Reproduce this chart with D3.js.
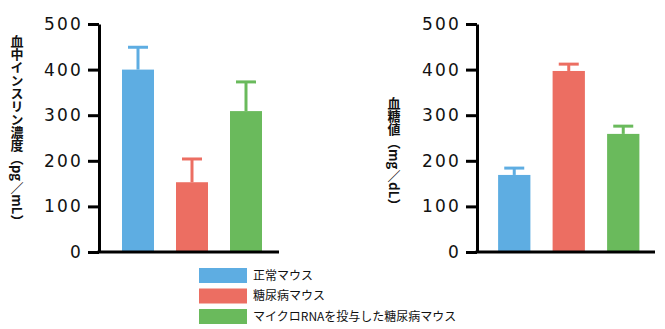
<!DOCTYPE html>
<html>
<head>
<meta charset="utf-8">
<script src="https://cdn.jsdelivr.net/npm/d3@7"></script>
<style>
  body { margin: 0; background: #fff; }
  svg { display: block; }
</style>
</head>
<body>
<div id="chartDiv"></div>
<script>
// groups (legend order)
const groups = ['正常マウス', '糖尿病マウス', 'マイクロRNAを投与した糖尿病マウス'];
const colors = ['#5eade2', '#ec6e62', '#6aba5c'];

// blood insulin (pg/mL)
const insulinMean = [400, 153, 309];
const insulinErr = [49, 51, 64];

// blood glucose (mg/dL)
const glucoseMean = [169, 397, 259];
const glucoseErr = [15, 15, 17];

const yTicks = [0, 100, 200, 300, 400, 500];

const width = 665, height = 329;
const svg = d3.select('#chartDiv').append('svg')
    .attr('width', width)
    .attr('height', height);

const y = d3.scaleLinear().domain([0, 500]).range([252, 24]);

function drawPanel(opts) {
    const g = svg.append('g');
    const x = d3.scaleBand()
        .domain(groups)
        .range([opts.bandStart, opts.bandStart + opts.step * 3])
        .paddingInner(22 / 54)
        .paddingOuter(11 / 54);

    const data = groups.map((k, i) => ({k, v: opts.mean[i], e: opts.err[i], c: colors[i]}));

    // error bars
    g.selectAll('line.err')
        .data(data)
        .join('line')
        .attr('class', 'err')
        .attr('x1', d => x(d.k) + x.bandwidth() / 2)
        .attr('x2', d => x(d.k) + x.bandwidth() / 2)
        .attr('y1', d => y(d.v))
        .attr('y2', d => y(d.v + d.e))
        .attr('stroke', d => d.c)
        .attr('stroke-width', 3);
    g.selectAll('line.cap')
        .data(data)
        .join('line')
        .attr('class', 'cap')
        .attr('x1', d => x(d.k) + x.bandwidth() / 2 - 10)
        .attr('x2', d => x(d.k) + x.bandwidth() / 2 + 10)
        .attr('y1', d => y(d.v + d.e))
        .attr('y2', d => y(d.v + d.e))
        .attr('stroke', d => d.c)
        .attr('stroke-width', 3);

    g.selectAll('rect')
        .data(data)
        .join('rect')
        .attr('x', d => x(d.k))
        .attr('width', x.bandwidth())
        .attr('y', d => y(d.v))
        .attr('height', d => y(0) - y(d.v))
        .attr('fill', d => d.c);

    // y axis
    const axis = g.append('g')
        .attr('transform', `translate(${opts.axisX},0)`)
        .call(d3.axisLeft(y).tickValues(yTicks).tickSize(11).tickPadding(5).tickSizeOuter(0));
    axis.select('.domain').attr('stroke', '#000').attr('stroke-width', 3);
    axis.selectAll('.tick line').attr('stroke', '#000').attr('stroke-width', 3);
    axis.selectAll('.tick text')
        .attr('fill', '#111')
        .attr('font-family', 'DejaVu Sans, sans-serif')
        .attr('font-size', 17)
        .attr('letter-spacing', 2.2);

    // x baseline
    g.append('line')
        .attr('x1', opts.axisX - 1.5)
        .attr('x2', opts.axisEnd)
        .attr('y1', y(0))
        .attr('y2', y(0))
        .attr('stroke', '#000')
        .attr('stroke-width', 3);

    // vertical label
    g.append('text')
        .attr('x', opts.labelX)
        .attr('y', opts.labelY)
        .attr('writing-mode', 'vertical-rl')
        .attr('font-family', 'Noto Sans CJK JP, sans-serif')
        .attr('font-weight', 'bold')
        .attr('font-size', 13)
        .attr('fill', '#111')
        .text(opts.label);
}

drawPanel({
    mean: insulinMean, err: insulinErr,
    axisX: 99, axisEnd: 279, bandStart: 111, step: 54,
    labelX: 17, labelY: 35, label: '血中インスリン濃度（pg／mL）'
});
drawPanel({
    mean: glucoseMean, err: glucoseErr,
    axisX: 477, axisEnd: 655, bandStart: 487, step: 54.5,
    labelX: 394, labelY: 97, label: '血糖値（mg／dL）'
});

// legend
const legend = svg.append('g').attr('transform', 'translate(199,268)');
const row = legend.selectAll('g')
    .data(groups)
    .join('g')
    .attr('transform', (d, i) => `translate(0,${i * 20.5})`);
row.append('rect')
    .attr('width', 48)
    .attr('height', 15)
    .attr('fill', (d, i) => colors[i]);
row.append('text')
    .attr('x', 54)
    .attr('y', 7.5)
    .attr('dy', '0.35em')
    .attr('font-family', 'Noto Sans CJK JP, sans-serif')
    .attr('font-size', 12)
    .attr('fill', '#111')
    .text(d => d);
</script>
</body>
</html>
